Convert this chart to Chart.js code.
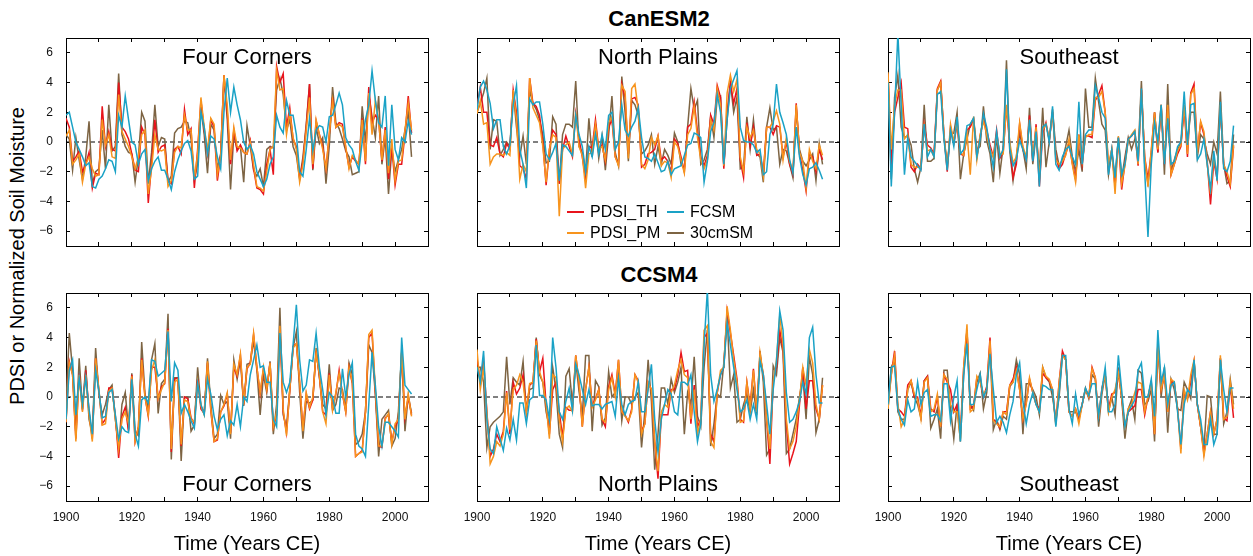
<!DOCTYPE html>
<html>
<head>
<meta charset="utf-8">
<script src="https://cdn.jsdelivr.net/npm/chart.js@4.4.1/dist/chart.umd.min.js"></script>
<style>
  body { margin: 0; width: 1253px; height: 556px; overflow: hidden; background: #fff; position: relative;
         font-family: "Liberation Sans", Arial, Helvetica, sans-serif; color: #000; }
  canvas { position: absolute; }
  .lbl { position: absolute; white-space: nowrap; line-height: 1.15; transform: translate(-50%, -50%); }
  .title { font-size: 22px; font-weight: bold; }
  .region { font-size: 22px; }
  .xtitle { font-size: 20px; }
  .ytitle { font-size: 20px; transform: translate(-50%, -50%) rotate(-90deg); }
  .leg { position: absolute; font-size: 16px; line-height: 1.15; white-space: nowrap; transform: translateY(-50%); }
  .sw { position: absolute; height: 2px; width: 17px; }
</style>
</head>
<body>
<div class="lbl title" style="left:659px; top:18.5px">CanESM2</div>
<div class="lbl title" style="left:659px; top:275px">CCSM4</div>
<div class="lbl ytitle" style="left:17px; top:256px">PDSI or Normalized Soil Moisture</div>

<script>
// years 1900-2005 (one value per year)
const years = [];
for (let y = 1900; y <= 2005; y++) years.push(y);

const seriesLabels = ['PDSI_TH', 'PDSI_PM', 'FCSM', '30cmSM'];
const seriesColors = ['#e8141c', '#f7941d', '#1aa2c6', '#7d6443'];
const seriesOrder = [3, 2, 1, 4]; // FCSM on top, 30cmSM underneath

const regionNames = ['Four Corners', 'North Plains', 'Southeast'];
const modelNames = ['CanESM2', 'CCSM4'];
const xTitle = 'Time (Years CE)';

// ---------- CanESM2, Four Corners ----------
const canFC_TH = [1.6,1.0,-1.3,-1.0,-0.6,-2.0,-1.5,-0.7,-3.1,-2.1,-2.2,
  2.4,-0.3,0.7,-0.5,-0.6,4.0,1.0,0.7,0.2,-0.8,
  -1.9,-2.0,1.0,0.5,-4.1,-1.5,1.5,-0.7,-0.3,-0.2,
  -2.6,-2.8,-0.5,-0.3,-0.8,2.2,0.5,0.9,-3.1,-0.5,
  2.8,0.8,-0.8,1.5,1.0,-2.6,-0.9,4.5,2.0,-1.5,
  0.8,-0.6,-0.2,-0.7,-0.8,0.1,-1.8,-3.1,-3.2,-3.5,
  -1.5,-0.5,-2.2,5.1,4.0,4.6,1.0,2.3,0.2,-0.3,
  -2.4,-1.3,1.0,3.9,-1.8,1.4,0.5,-0.3,-1.8,0.5,
  3.0,1.0,1.3,1.2,-0.4,-1.7,-1.0,-1.3,-1.5,1.6,
  -1.5,3.7,1.3,1.8,1.5,-1.3,1.0,-2.5,-0.3,-2.9,
  -1.5,-1.5,0.5,3.1,0.6];
const canFC_PM = [0.4,0.8,-1.5,-1.2,-0.8,-2.7,-1.5,-1.0,-1.8,-2.3,-2.2,
  1.5,-0.2,0.5,-1.0,-1.1,3.2,0.7,0.2,-0.3,-1.0,
  -1.8,-1.0,0.5,0.8,-3.5,-1.8,0.5,-0.5,-0.6,-0.5,
  -3.0,-2.6,-0.7,-0.3,-0.4,1.8,0.8,0.8,-2.5,-0.8,
  3.0,1.0,-0.6,1.6,1.2,-2.2,-1.0,4.5,2.5,-1.2,
  1.0,-0.3,-0.4,-0.7,-0.8,0.0,-1.5,-3.0,-3.1,-3.3,
  -2.0,-0.5,-0.3,4.8,3.5,3.6,0.5,2.0,0.3,-0.5,
  -2.7,-1.5,0.8,3.0,-1.5,1.5,0.5,-0.5,-1.8,0.5,
  2.8,1.0,1.2,1.0,-0.3,-1.8,-0.9,-1.2,-1.5,1.5,
  -1.3,3.3,0.5,2.8,1.5,-1.2,0.8,-2.1,0.2,-2.6,
  -1.3,-1.2,0.8,2.6,0.8];
const canFC_FC = [1.8,2.0,1.0,0.0,-0.5,-1.0,-1.6,-1.4,-3.0,-3.1,-2.5,
  -2.3,-1.8,-1.2,-1.3,-2.0,1.8,1.0,3.1,1.5,0.0,
  -0.2,-1.5,-0.8,-0.5,-2.6,-1.8,-1.3,-1.0,-1.9,-1.9,
  -2.5,-3.2,-2.0,-1.2,-0.6,-0.1,0.1,-0.6,-2.5,-2.3,
  2.0,1.0,-0.8,0.4,0.2,-1.0,-1.8,2.0,4.3,2.0,
  3.7,2.5,1.5,0.0,-0.5,-0.2,-0.8,-2.0,-2.5,-3.0,
  -2.5,-1.5,-1.0,1.8,1.0,0.6,2.8,1.8,1.8,0.5,
  -2.0,-2.3,-0.5,1.6,-0.6,0.8,1.1,1.0,0.0,1.7,
  1.8,2.5,3.3,2.5,0.3,-0.2,-0.5,-1.3,-1.9,0.0,
  1.5,2.5,4.8,2.8,1.3,1.0,3.1,-1.6,2.5,-0.5,
  -1.2,0.3,0.0,1.4,0.5];
const canFC_30 = [0.5,0.2,-1.9,0.3,-1.2,-2.5,-1.0,1.4,-2.8,-2.0,-1.8,
  0.8,-1.8,2.5,-0.6,-0.3,4.6,0.5,-0.3,-0.7,-0.8,
  -2.7,-1.0,2.0,1.4,-2.8,-0.7,2.5,-0.3,0.3,0.2,
  -2.7,-2.3,0.6,0.9,1.0,1.4,1.3,0.2,-2.5,-1.5,
  2.3,0.5,-2.1,1.2,0.8,-1.8,-0.8,4.4,1.5,-3.2,
  0.5,-0.5,-0.3,-2.7,1.1,-0.3,-1.9,-2.3,-1.8,-3.0,
  -0.5,-0.3,-0.4,3.5,4.3,3.2,0.8,1.5,-0.3,-0.9,
  -2.5,-1.0,1.2,3.9,-1.9,1.0,-0.1,0.3,-2.8,-0.3,
  3.7,1.3,0.9,0.2,-0.6,-1.0,-2.2,-2.1,-2.0,2.4,
  0.0,3.2,1.7,0.3,3.1,-1.5,0.3,-3.5,-0.5,-2.0,
  -1.2,-0.5,0.8,2.0,-1.0];

// ---------- CanESM2, North Plains ----------
const canNP_TH = [2.4,3.7,2.0,2.0,-0.2,-0.3,0.3,-0.8,-1.0,-0.1,-0.5,
  3.5,2.0,-1.6,-1.8,-2.5,4.3,2.6,2.4,1.8,0.0,
  -2.9,-0.5,0.8,0.5,-2.8,-0.5,0.4,-0.3,-1.0,1.9,
  0.2,-1.0,-2.5,-0.3,-0.4,1.5,-0.5,-0.2,-1.3,1.0,
  1.5,-1.0,-1.5,3.9,3.0,-0.8,2.9,3.0,2.5,-1.7,
  -1.5,-0.8,-0.7,-0.5,0.4,-1.2,-1.0,-1.3,-2.0,0.2,
  -0.1,-1.0,-2.0,1.0,1.2,2.7,0.7,-1.0,-1.6,-0.9,
  1.8,1.2,3.8,3.0,-1.8,2.0,4.0,2.6,3.6,-1.2,
  -2.4,1.3,-0.3,1.0,-0.9,-0.8,-2.1,1.0,1.0,0.5,
  1.1,1.0,-1.0,0.0,-1.5,-2.2,2.6,-0.8,-1.9,-3.3,
  -0.8,-1.0,-2.0,-0.5,-1.2];
const canNP_PM = [1.9,2.8,1.2,1.3,-1.5,-1.0,-0.8,-0.8,-0.9,-0.7,-0.9,
  3.5,1.5,-2.5,-1.5,-2.0,4.3,2.3,1.8,1.3,-0.3,
  -2.7,-0.5,0.5,0.3,-5.0,-0.5,-0.2,0.0,-0.8,2.0,
  -0.3,-0.9,-3.1,-0.8,-0.7,1.2,-0.5,-0.3,-1.2,1.3,
  1.7,-1.0,-1.6,3.8,3.4,-1.1,3.6,3.9,2.1,-1.5,
  -1.8,-1.2,0.3,-0.2,0.4,-1.6,-1.3,-1.4,-2.4,0.0,
  -0.3,-1.2,-2.1,0.5,0.9,2.4,0.3,-1.2,-1.8,-1.2,
  1.5,0.8,3.6,2.5,-1.6,3.3,4.5,3.4,4.2,-1.0,
  -2.0,1.0,0.3,0.8,-0.5,-0.8,-2.3,1.0,1.0,1.4,
  2.1,1.2,-1.2,0.3,-1.3,-2.0,2.5,-0.7,-1.3,-3.1,
  -0.5,-1.3,-1.8,-0.2,-0.9];
const canNP_FC = [2.2,3.7,4.1,3.5,2.6,0.9,1.5,1.5,-0.3,-0.8,-0.2,
  2.5,3.8,-0.5,-1.5,-3.1,2.9,2.5,2.7,2.7,1.2,
  -0.8,-1.2,-0.7,-0.1,-2.6,-0.2,-0.3,-0.6,-0.9,1.8,
  0.5,-0.3,-2.0,-0.3,-1.0,0.5,-0.8,0.5,-0.5,1.8,
  2.0,-0.5,0.0,2.5,0.8,0.4,1.0,1.4,2.3,0.3,
  -1.0,-1.1,-1.3,-0.8,-1.4,-2.0,-1.9,-1.3,-2.2,-1.8,
  -1.7,-1.6,-0.9,-0.2,-0.1,0.6,0.5,0.3,-2.7,-1.3,
  0.7,1.3,3.2,2.0,-1.5,1.5,3.6,4.2,4.8,1.0,
  0.1,0.0,0.0,-0.2,-0.7,-0.5,-2.2,-2.0,0.5,1.2,
  3.9,2.0,1.3,0.5,-1.2,-2.1,1.0,-1.0,-2.2,-2.9,
  -1.8,-1.7,-1.4,-1.9,-2.5];
const canNP_30 = [2.0,2.6,3.3,4.3,-0.5,1.5,1.4,-0.9,-0.5,0.0,-0.3,
  3.4,1.0,-1.0,0.4,-1.5,3.5,2.6,2.2,1.5,0.5,
  -1.4,-1.3,1.7,1.2,-2.8,0.5,1.2,1.2,1.0,4.1,
  -0.3,-0.7,-2.0,1.6,-1.0,1.2,-1.1,0.4,-1.9,0.5,
  3.1,-0.7,-1.6,4.4,2.0,-1.3,2.8,2.5,1.8,-0.8,
  -0.6,-0.2,0.5,-1.5,-0.3,-1.5,-0.5,-0.9,-1.5,0.6,
  0.0,-1.5,-1.8,1.0,3.6,2.2,2.8,-1.5,-1.2,-0.5,
  1.7,0.3,3.0,3.1,-1.6,1.5,4.0,2.0,3.0,-1.8,
  -1.7,1.7,-0.5,1.5,-0.8,-1.0,-2.7,1.0,2.3,0.8,
  1.0,-1.5,-0.5,-0.6,-1.5,-2.4,2.3,-0.5,-1.3,-1.6,
  -1.2,-0.8,-2.6,-0.1,-1.5];

// ---------- CanESM2, Southeast ----------
const canSE_TH = [4.6,-1.5,2.0,3.0,4.0,1.0,0.9,-1.7,-2.0,-1.5,-1.8,
  1.2,-0.2,-0.4,-0.8,3.6,4.1,0.5,-2.0,1.0,-0.1,
  1.2,-0.8,-0.9,0.8,1.0,1.5,-1.0,0.4,1.6,0.8,
  -0.2,-1.0,0.8,-1.1,-0.7,2.4,-0.2,-2.4,-1.5,1.2,
  -0.5,-1.2,1.8,-1.3,1.2,-3.0,0.6,1.3,0.1,2.0,
  -1.0,-1.8,-1.5,-0.8,-0.1,-1.4,-2.5,0.5,-1.5,0.4,
  0.4,0.3,2.8,3.2,3.8,2.0,-1.8,-0.5,-3.0,0.3,
  -3.2,-1.4,0.2,0.4,0.7,-1.6,3.5,-1.0,-2.5,-0.7,
  2.0,-0.7,2.5,-1.5,2.4,-2.2,-1.5,-0.8,-0.3,2.3,
  -1.0,3.3,3.9,-0.7,1.3,0.5,-1.3,-4.2,-1.3,-2.5,
  2.3,-1.5,-2.3,-3.0,-0.3];
const canSE_PM = [4.7,-0.5,2.5,3.5,3.5,0.2,0.5,-1.5,-1.7,-1.7,-1.7,
  1.0,-0.6,-0.5,-1.0,3.5,4.0,0.5,-1.8,1.2,0.0,
  1.3,-0.7,-0.9,0.6,-2.2,1.7,-1.2,0.5,1.4,0.5,
  -0.5,-1.0,0.5,-0.8,-0.8,2.5,0.0,-1.4,-1.0,1.3,
  -0.3,-1.0,1.5,-1.0,1.0,-2.5,0.8,1.2,0.2,2.0,
  -1.2,-1.5,-1.3,-0.9,0.2,-1.5,-2.7,0.5,-1.3,0.3,
  0.5,0.5,3.0,3.0,3.4,2.0,-1.5,-0.5,-3.5,0.4,
  -2.8,-1.6,0.1,0.5,0.8,-1.5,3.5,-1.0,-3.0,-0.5,
  2.0,-0.5,2.5,-1.4,2.5,-2.2,-1.5,-0.6,-0.2,2.5,
  -0.8,3.2,3.6,-0.8,1.4,0.7,-1.5,-3.5,-1.0,-2.3,
  2.5,-1.5,-2.0,-2.8,-0.2];
const canSE_FC = [4.0,-3.0,2.0,7.3,2.5,-2.2,0.3,-1.0,-1.3,-1.6,-1.9,
  1.2,-1.0,-0.5,-1.0,3.2,3.4,0.2,-1.9,0.8,-0.3,
  1.7,-0.8,-0.5,1.1,1.2,1.6,-1.0,0.2,1.9,1.0,
  -0.5,-1.7,0.7,-1.0,-0.5,4.9,-0.5,-1.6,-1.2,0.1,
  -0.5,-1.2,1.5,-1.3,0.7,-3.0,1.0,1.2,0.0,2.4,
  -1.5,-1.9,-1.0,-0.5,-0.3,-1.0,-1.5,2.7,-1.5,0.5,
  0.8,0.8,3.8,3.0,2.0,1.6,-2.2,-0.5,-2.4,0.3,
  -2.2,-1.5,0.2,0.4,0.7,-1.3,3.6,-2.0,-6.4,-1.5,
  1.3,0.0,2.5,-1.5,1.6,-1.5,-1.3,-0.3,0.0,3.4,
  -0.2,2.5,2.6,-1.2,-0.8,0.2,-1.5,-3.2,-0.6,-2.6,
  2.7,-1.8,-2.0,-1.3,1.1];
const canSE_30 = [4.5,-2.5,3.0,4.5,1.0,0.3,0.4,-0.2,-1.8,-2.7,-1.7,
  2.5,-1.3,-1.3,-1.1,3.5,4.0,0.3,-1.5,0.5,0.6,
  2.0,-2.5,-0.8,0.2,1.2,1.6,-0.5,-0.3,2.4,0.1,
  -0.8,-2.7,0.5,-2.1,-0.3,5.5,-0.6,-2.6,-1.0,0.6,
  -0.5,-1.8,2.3,-1.5,0.5,-2.0,2.3,-1.7,0.0,2.2,
  -0.5,-1.6,-1.2,-0.3,0.8,-1.0,-2.0,-0.5,-2.0,3.6,
  1.0,1.0,4.3,2.7,1.2,0.8,-2.2,-0.7,-2.5,0.3,
  -2.5,-1.0,0.3,-0.5,0.2,-0.8,4.1,-1.5,-2.8,-1.0,
  2.0,-0.7,2.4,-2.2,3.9,-2.0,-1.2,-0.5,-0.1,2.5,
  0.0,2.0,2.0,-1.0,0.5,0.2,-0.8,-1.5,0.0,-0.8,
  3.4,-1.5,-2.8,-2.6,0.5];

// ---------- CCSM4, Four Corners ----------
const ccFC_TH = [-1.7,2.4,1.5,-2.8,1.6,-0.9,1.8,-1.0,-2.8,2.6,0.4,
  -1.8,-1.5,0.6,0.6,-1.3,-4.1,-1.3,-0.7,-2.3,1.5,
  -3.0,-2.0,2.6,0.0,-1.3,2.0,2.0,-0.1,0.7,0.9,
  4.6,-3.7,1.2,1.3,-3.3,0.0,-0.1,-1.4,-1.8,1.2,
  -0.8,-1.1,2.3,-0.9,-3.0,-2.9,-1.0,-0.6,0.2,-2.4,
  2.0,1.4,2.8,-0.5,1.9,2.3,4.2,2.0,0.2,1.9,
  0.5,2.3,-2.0,-1.2,4.5,-1.0,-2.4,0.4,3.4,3.6,
  1.0,-2.2,0.2,-0.8,-0.2,3.1,1.4,-1.0,-1.2,1.6,
  -0.8,0.2,1.8,0.2,-1.0,2.0,0.9,-4.0,-3.8,-3.6,
  -1.0,4.0,4.3,0.3,-3.3,-3.4,-1.4,-1.2,-3.0,-2.0,
  -1.5,3.0,-1.4,0.0,-1.2];
const ccFC_PM = [-1.7,2.3,1.5,-3.0,1.5,-1.0,1.5,-1.2,-3.0,2.6,0.5,
  -1.9,-1.8,0.4,0.6,-1.5,-3.5,-1.5,-1.0,-1.8,1.4,
  -3.0,-2.0,2.5,0.0,-1.2,1.8,2.5,-0.1,0.5,1.0,
  4.5,-3.5,1.0,1.2,-3.2,-0.2,-0.3,-1.5,-1.7,1.0,
  -0.6,-1.2,2.4,-0.8,-3.0,-2.8,-1.0,-0.5,0.3,-2.5,
  2.2,1.5,2.9,-0.5,2.0,2.2,4.3,2.0,0.3,2.0,
  0.5,2.3,-2.0,-1.0,4.8,-0.8,-2.6,0.5,3.3,3.6,
  1.0,-2.3,0.3,-0.7,0.0,3.0,1.5,-1.0,-1.8,1.5,
  -0.9,0.3,1.6,0.3,-1.0,2.0,1.0,-4.0,-3.8,-3.7,
  -1.0,4.2,4.5,0.5,-3.3,-3.3,-1.5,-1.1,-3.2,-1.8,
  -1.5,3.2,-1.5,0.2,-1.3];
const ccFC_FC = [-1.5,1.8,2.5,-1.2,1.3,-0.5,1.3,-0.8,-2.5,1.8,0.4,
  -1.4,-1.3,0.3,0.5,-1.2,-2.8,-2.0,-2.3,-2.4,1.2,
  -2.5,-3.3,-0.2,0.0,-0.4,2.5,2.4,1.4,1.6,1.8,
  4.4,-0.3,2.3,1.8,-1.1,-0.5,-1.0,-1.6,-2.1,0.9,
  -0.5,-1.2,1.2,0.2,-1.3,-2.2,-1.5,-1.2,-2.6,-1.6,
  -1.9,-0.5,-2.0,0.0,-0.3,1.5,2.5,3.5,2.0,2.1,
  1.0,1.0,-1.5,-2.0,4.3,1.0,0.3,1.0,3.5,6.2,
  2.5,0.4,0.8,2.5,2.4,4.3,2.0,0.5,-1.2,0.3,
  0.0,-1.1,-1.1,1.9,0.0,1.5,2.3,-2.5,-3.3,-3.5,
  -4.0,-0.5,3.0,0.8,-2.0,-3.3,-1.7,-1.7,-2.0,-2.3,
  -2.7,4.0,0.8,0.5,0.2];
const ccFC_30 = [-0.5,4.3,1.8,-2.5,2.6,-0.8,2.1,-1.5,-2.5,3.3,0.2,
  -1.2,-0.5,0.5,0.8,-1.5,-3.5,-0.5,0.3,-2.2,1.6,
  -2.3,-2.6,3.7,0.2,-0.8,2.5,3.6,-1.1,0.9,1.2,
  5.6,-4.2,1.3,1.3,-4.3,0.0,0.0,-2.3,-1.9,2.0,
  -0.6,-1.1,2.6,-0.5,-2.8,-2.5,0.1,-0.5,-0.3,-2.8,
  2.5,1.2,2.5,-0.6,2.2,2.3,3.8,1.8,-1.2,1.5,
  0.3,2.4,-2.5,-0.5,6.0,-1.2,-2.0,0.5,3.3,4.4,
  0.3,-2.8,-0.3,-0.4,-0.2,3.3,1.3,-0.5,-0.8,2.2,
  -0.9,-0.5,0.6,0.5,-0.8,2.3,1.5,-3.2,-3.0,-2.5,
  -1.0,3.5,3.0,0.2,-4.0,-1.5,-1.2,-0.9,-3.3,-2.8,
  -1.0,3.0,-2.3,0.1,-1.1];

// ---------- CCSM4, North Plains ----------
const ccNP_TH = [2.6,1.0,2.5,-1.0,-4.0,-3.5,-2.5,-3.0,-2.3,0.4,-2.5,
  1.0,0.2,0.6,1.5,-1.0,0.8,1.0,3.9,1.7,2.6,
  -0.5,-2.5,0.5,1.0,-1.0,-2.7,-0.7,-0.9,-0.9,2.8,
  1.0,-2.0,0.5,2.0,-0.6,-0.1,0.5,-1.5,-2.0,0.7,
  1.5,0.2,2.5,-1.0,-1.2,-1.7,-0.8,1.5,1.1,-2.3,
  -1.8,1.0,0.5,-3.0,-5.5,-1.2,-1.2,-1.2,0.5,0.5,
  1.5,3.0,1.7,1.8,-1.8,0.8,-2.0,-1.5,4.0,4.3,
  -2.5,-3.0,0.3,1.5,2.0,5.8,4.3,2.8,1.2,-1.5,
  -1.7,1.0,-0.6,1.9,-1.0,2.8,1.5,-1.5,-4.5,1.0,
  2.0,4.5,3.2,-1.8,-4.5,-3.8,-3.0,-0.5,2.0,-0.8,
  1.1,1.1,-0.8,-1.5,0.8];
const ccNP_PM = [3.2,0.5,2.0,-1.0,-4.5,-4.0,-3.0,-3.3,-2.5,0.3,-2.2,
  0.5,0.8,1.5,1.0,-1.0,0.9,1.0,3.8,1.7,1.0,
  -0.5,-2.8,1.5,1.3,-1.5,-3.0,-0.8,-0.6,-1.0,2.8,
  1.0,-2.0,0.5,2.0,-0.7,-0.2,0.5,-1.5,-1.7,0.5,
  1.3,0.0,2.5,-1.0,-1.3,-1.6,-1.0,1.5,1.0,-2.5,
  -1.8,1.0,0.5,-3.0,-5.0,-1.0,-0.5,-0.7,0.3,0.8,
  1.8,2.5,1.5,1.3,-1.5,0.5,-2.5,-1.5,4.5,4.8,
  -3.0,-3.4,0.3,1.8,2.0,6.1,4.5,2.5,1.0,-1.7,
  -1.6,1.0,-0.8,1.8,-1.0,3.0,1.5,-1.5,-3.5,1.0,
  2.5,5.5,3.5,-1.5,-3.5,-3.0,-2.0,-0.2,2.0,0.8,
  3.2,2.3,-0.5,-1.5,0.8];
const ccNP_FC = [2.0,1.0,3.1,-1.5,-3.5,-3.8,-2.0,-2.8,-3.6,-2.1,-2.9,
  -1.5,-2.9,-0.4,-0.4,-1.8,-0.2,0.0,3.5,0.1,0.1,
  -0.2,-1.5,4.0,2.0,-1.0,-1.5,-0.3,0.6,-0.9,2.2,
  1.5,0.5,-0.5,0.5,-0.6,-0.5,-0.5,-0.8,-0.5,-0.4,
  -0.3,-1.3,1.2,-0.5,-1.2,-0.5,-0.3,-0.2,1.0,-1.0,
  -1.0,0.5,2.2,-1.5,-3.7,-1.5,-0.5,0.5,0.2,-1.0,
  -1.2,1.0,1.0,0.8,1.5,-1.0,-3.0,-1.8,3.5,7.2,
  1.5,-0.3,0.5,1.5,2.0,5.0,3.5,2.0,0.5,-1.0,
  -0.8,-0.2,-1.5,-0.5,-1.5,2.4,1.5,-0.5,-2.5,0.5,
  2.4,5.8,4.5,0.3,-1.7,-1.5,-1.0,-0.3,1.0,0.2,
  4.0,4.7,1.5,-0.4,-0.4];
const ccNP_30 = [2.0,2.0,1.0,-3.4,-2.0,-1.7,-1.5,-1.3,-1.0,2.7,-0.5,
  1.3,1.0,0.8,2.4,-1.0,0.5,0.6,4.0,1.5,1.0,
  -1.0,-2.0,2.0,0.5,-2.5,-3.4,1.4,1.9,-0.5,2.4,
  0.4,-1.3,2.8,2.8,-2.3,1.1,0.7,-1.9,-1.4,1.7,
  0.0,0.3,1.5,-1.6,0.0,0.0,-0.5,0.0,0.3,-3.4,
  -1.0,2.5,-0.3,-4.9,-2.5,0.6,0.6,-0.5,1.2,0.3,
  1.0,2.0,-2.5,0.3,-0.5,2.7,-1.3,-2.0,2.0,4.5,
  -3.3,-1.8,0.2,0.0,2.3,5.5,0.6,1.5,-1.7,-1.5,
  -0.5,0.2,-1.0,0.5,-1.2,3.1,1.0,-3.9,-3.5,2.1,
  1.5,4.0,3.0,-3.8,-3.5,-2.5,-1.5,0.0,1.5,-1.5,
  2.7,1.5,-2.4,-1.5,1.3];

// ---------- CCSM4, Southeast ----------
const ccSE_TH = [-0.5,1.5,3.1,-0.8,-1.0,-1.3,0.8,1.1,0.0,0.0,-1.3,
  1.1,1.4,-0.8,-1.0,0.0,-2.0,1.5,1.0,0.5,-1.0,
  -0.5,-2.5,2.0,4.5,-0.8,-0.6,1.3,1.1,0.0,0.7,
  4.0,-1.5,-1.7,-2.1,-1.0,-1.0,0.8,1.2,2.0,0.5,
  -1.5,-0.4,1.2,0.3,-0.5,-0.8,1.6,1.3,1.1,0.5,
  -1.8,1.0,3.1,2.5,-1.0,-1.3,-0.8,-1.5,-0.5,0.5,
  0.0,2.0,1.3,-1.5,0.6,1.5,-0.8,0.2,0.3,1.6,
  0.0,-2.0,-1.0,-0.8,-0.6,0.5,0.5,-1.2,0.0,1.0,
  -2.5,3.6,0.5,1.5,-1.0,1.1,0.9,-0.8,-3.5,0.3,
  -0.1,1.0,2.4,-0.5,-2.0,-3.8,-2.5,-1.0,-2.5,-1.5,
  2.6,-1.4,-1.6,0.8,-1.4];
const ccSE_PM = [-0.8,1.5,2.8,-0.5,-2.0,-1.5,0.5,1.1,0.2,-0.2,-1.5,
  1.0,1.3,-1.0,-0.8,0.2,-2.0,1.5,1.2,-0.5,-1.0,
  -1.0,-2.8,2.0,4.9,-1.0,-0.8,1.4,1.0,0.2,0.5,
  3.8,-1.6,-1.8,-2.0,-1.0,-1.2,0.8,1.0,1.8,0.5,
  -1.5,-0.5,1.3,0.3,-0.5,-1.0,2.0,1.4,1.2,0.5,
  -1.9,1.0,2.8,2.5,-1.0,-1.3,-0.8,-1.8,-0.5,0.5,
  0.0,1.9,1.3,-1.5,0.5,1.5,-1.0,0.0,0.5,1.6,
  0.0,-2.0,-0.8,-0.5,0.3,1.0,0.9,-1.0,0.0,1.0,
  -2.5,3.5,0.5,1.5,-1.0,1.2,1.0,-0.8,-3.8,0.5,
  -0.2,1.5,2.5,-0.5,-2.0,-4.0,-2.5,-1.0,-2.5,-1.5,
  2.8,-1.5,-1.3,1.0,-0.8];
const ccSE_FC = [-0.5,2.0,2.1,-0.8,-1.5,-1.9,-0.2,-1.0,-0.8,1.0,-0.5,
  0.3,0.5,-1.3,-1.2,-1.2,-1.6,0.9,0.9,-1.6,0.0,
  1.1,-3.0,1.5,3.6,-0.5,-0.5,0.5,1.5,0.0,0.5,
  2.9,0.5,-1.7,-1.3,-1.7,-2.4,-1.2,-0.3,1.5,2.3,
  -0.3,-1.8,-0.5,0.3,-0.5,-1.0,0.8,0.7,0.5,0.5,
  -2.0,0.3,2.8,2.8,-0.8,-1.8,0.2,-1.2,-0.5,0.6,
  0.1,0.9,0.9,-1.3,0.5,2.0,-1.0,-1.0,-0.5,2.8,
  0.5,-2.0,-1.0,-0.6,-0.2,1.8,2.3,0.0,0.0,1.2,
  -1.3,4.5,1.0,2.0,-0.5,0.8,1.0,-1.0,-3.2,-0.5,
  0.5,0.2,2.5,-0.5,-1.5,-3.2,-3.2,-1.5,-3.2,-2.5,
  2.5,0.5,-1.0,0.6,0.6];
const ccSE_30 = [-0.8,2.0,2.5,-1.0,-1.5,-1.5,0.5,1.0,0.0,-0.5,-1.4,
  1.1,1.4,-2.1,-1.5,-0.8,-2.8,1.8,1.8,-0.8,-2.8,
  -0.5,-3.0,1.5,4.5,-0.5,-0.9,1.0,1.6,-0.8,0.3,
  3.5,-2.2,-1.5,-2.2,-1.3,-1.5,0.7,1.0,2.5,1.5,
  -2.5,0.9,0.9,0.5,0.0,-1.2,2.0,1.3,1.0,0.0,
  -1.5,0.0,2.8,2.5,-1.0,-1.0,-1.0,-1.5,-0.5,0.6,
  -0.1,1.5,1.2,-2.0,0.2,1.5,-1.0,0.0,-1.2,2.0,
  -0.1,-2.8,-0.8,-0.2,-1.5,1.8,1.6,-0.5,-0.3,0.5,
  -3.0,3.5,0.0,2.0,-2.4,1.2,0.5,-0.8,-0.9,1.0,
  0.5,-0.1,2.4,-0.5,-2.0,-3.5,0.1,0.0,-2.5,-2.5,
  2.6,-1.8,-1.0,1.2,-0.5];

// panel grid: 3 columns x 2 rows, each plot area 362 x 208
const colLeft = [66, 477, 888];
const rowTop = [38, 293];
const plotW = 362, plotH = 208;

const panels = [
  { row: 0, col: 0, series: [canFC_TH, canFC_PM, canFC_FC, canFC_30] },
  { row: 0, col: 1, series: [canNP_TH, canNP_PM, canNP_FC, canNP_30] },
  { row: 0, col: 2, series: [canSE_TH, canSE_PM, canSE_FC, canSE_30] },
  { row: 1, col: 0, series: [ccFC_TH, ccFC_PM, ccFC_FC, ccFC_30] },
  { row: 1, col: 1, series: [ccNP_TH, ccNP_PM, ccNP_FC, ccNP_30] },
  { row: 1, col: 2, series: [ccSE_TH, ccSE_PM, ccSE_FC, ccSE_30] }
];

const tickFont = { family: '"Liberation Sans", Arial, Helvetica, sans-serif', size: 12 };
const frame = { display: true, color: '#000', width: 1 };
const inTicks = { drawOnChartArea: false, drawTicks: true, tickLength: -4, tickColor: '#000', tickWidth: 1 };

function fixBox(w, h) {
  return function(s) {
    if (w !== null) s.width = w;
    if (h !== null) s.height = h;
    s.paddingLeft = s.paddingRight = s.paddingTop = s.paddingBottom = 0;
  };
}

function addText(cls, text, x, y) {
  const d = document.createElement('div');
  d.className = 'lbl ' + cls;
  d.textContent = text;
  d.style.left = x + 'px';
  d.style.top = y + 'px';
  document.body.appendChild(d);
}

panels.forEach(function(p) {
  const left = colLeft[p.col], top = rowTop[p.row];
  const cv = document.createElement('canvas');
  cv.width = 56 + plotW + 20;
  cv.height = 8 + plotH + 30;
  cv.style.left = (left - 56) + 'px';
  cv.style.top = (top - 8) + 'px';
  document.body.appendChild(cv);

  const datasets = p.series.map(function(vals, i) {
    return {
      label: seriesLabels[i],
      data: vals.map(function(v, j) { return { x: years[j], y: v }; }),
      borderColor: seriesColors[i],
      borderWidth: 1.5,
      pointRadius: 0,
      tension: 0,
      order: seriesOrder[i],
      xAxisID: 'x', yAxisID: 'y'
    };
  });
  datasets.push({
    label: 'zero',
    data: [{ x: 1900, y: 0 }, { x: 2010, y: 0 }],
    borderColor: '#000', borderWidth: 1, borderDash: [5, 3],
    pointRadius: 0, order: 9, xAxisID: 'x', yAxisID: 'y'
  });

  const showX = p.row === 1, showY = p.col === 0;

  new Chart(cv, {
    type: 'line',
    data: { datasets: datasets },
    options: {
      responsive: false,
      animation: false,
      devicePixelRatio: 1,
      layout: { padding: { left: 6, right: 20, top: 8, bottom: 5 } },
      plugins: { legend: { display: false }, tooltip: { enabled: false } },
      scales: {
        x: {
          type: 'linear', axis: 'x', position: 'bottom', min: 1900, max: 2010,
          border: frame, grid: inTicks,
          ticks: {
            display: showX, stepSize: 10, autoSkip: false, maxRotation: 0, minRotation: 0,
            padding: 13, color: '#111', font: tickFont,
            callback: function(v) { return (v % 20 === 0 && v <= 2000) ? String(v) : ''; }
          },
          afterFit: fixBox(null, 25)
        },
        xt: {
          type: 'linear', axis: 'x', position: 'top', min: 1900, max: 2010,
          border: frame, grid: inTicks,
          ticks: { display: false, stepSize: 10, autoSkip: false },
          afterFit: fixBox(null, 0)
        },
        y: {
          type: 'linear', axis: 'y', position: 'left', min: -7, max: 7,
          border: frame, grid: inTicks,
          ticks: {
            display: showY, autoSkip: false, padding: 17, color: '#111', font: tickFont,
            callback: function(v) {
              if (v % 2 !== 0) return '';
              return v < 0 ? '\u2212' + Math.abs(v) : String(v);
            }
          },
          afterFit: fixBox(50, null)
        },
        yr: {
          type: 'linear', axis: 'y', position: 'right', min: -7, max: 7,
          border: frame, grid: inTicks,
          ticks: { display: false, autoSkip: false },
          afterFit: fixBox(0, null)
        }
      }
    }
  });

  const cx = left + plotW / 2;
  addText('region', regionNames[p.col], cx, p.row === 0 ? top + 19 : top + plotH - 17);
  if (showX) addText('xtitle', xTitle, cx, 542.5);
});

// legend inside the CanESM2 North Plains panel
const legendPos = [
  { x: 567, y: 211.5 }, { x: 567, y: 232.5 }, { x: 667, y: 211.5 }, { x: 667, y: 232.5 }
];
// order in the figure: PDSI_TH, PDSI_PM (left column), FCSM, 30cmSM (right column)
seriesLabels.forEach(function(name, i) {
  const pos = legendPos[i];
  const sw = document.createElement('div');
  sw.className = 'sw';
  sw.style.left = pos.x + 'px';
  sw.style.top = (pos.y - 1) + 'px';
  sw.style.background = seriesColors[i];
  document.body.appendChild(sw);
  const t = document.createElement('div');
  t.className = 'leg';
  t.textContent = name;
  t.style.left = (pos.x + 23) + 'px';
  t.style.top = pos.y + 'px';
  document.body.appendChild(t);
});
</script>
</body>
</html>
